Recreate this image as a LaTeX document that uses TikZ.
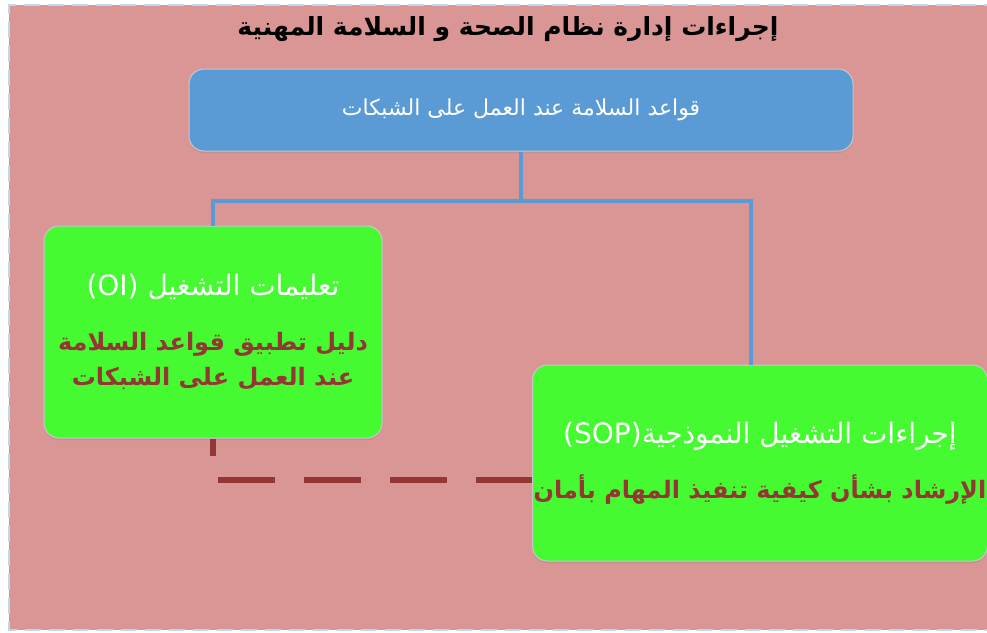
\documentclass[tikz,border=0pt]{standalone}
\usepackage{fontspec}
\newfontfamily\arabicfont[Script=Arabic]{DejaVu Sans}
\TeXXeTstate=1
\usetikzlibrary{shadows}

\definecolor{bgpink}{RGB}{217,150,148}
\definecolor{edgeblue}{RGB}{189,215,238}
\definecolor{boxblue}{RGB}{91,155,213}
\definecolor{boxgreen}{RGB}{70,250,50}
\definecolor{darkred}{RGB}{148,54,52}
\definecolor{boxedge}{RGB}{200,200,205}

\tikzset{
  box/.style={draw=boxedge,line width=1pt,rounded corners=15pt,align=center,
    drop shadow={shadow xshift=0pt,shadow yshift=-2pt,opacity=0.25}},
  bluebox/.style={box,fill=boxblue,minimum width=664pt,minimum height=82pt},
  greenbox/.style={box,fill=boxgreen,inner xsep=0pt,font=\fontsize{24}{35}\selectfont},
  link/.style={draw=boxblue,line width=4pt},
  dashlink/.style={draw=darkred,line width=6pt,dash pattern=on 57pt off 29pt,dash phase=40pt}
}

\newcommand{\ar}[1]{\arabicfont\beginR #1\endR}
\newcommand{\whiteline}{\color{white}\fontsize{28}{35}\selectfont\mdseries}
\newcommand{\redline}{\color{darkred}\fontsize{24}{35}\selectfont\bfseries}

\begin{document}
\begin{tikzpicture}[x=1pt,y=-1pt]
            \useasboundingbox (0,0) rectangle (987,632);

            % Background
            \fill[bgpink] (9,5) rectangle (1000,630);
            \draw[edgeblue,line width=2pt,dash pattern=on 16pt off 8pt] (1000,5) -- (9,5) -- (9,630) -- (1000,630);

            \node[font=\fontsize{25}{28}\selectfont\bfseries] (title) at (508,29) {\ar{إجراءات إدارة نظام الصحة و السلامة المهنية}};

            \node[bluebox,text=white,font=\fontsize{22}{26}\selectfont] (rules) at (521,110)
            {\ar{قواعد السلامة عند العمل على الشبكات}};

            \node[greenbox,minimum width=338pt,minimum height=212pt] (oi) at (213,332)
            {\whiteline\arabicfont\beginR تعليمات التشغيل \beginL(OI)\endL\endR\\[20pt]
             \redline\ar{دليل تطبيق قواعد السلامة}\\\redline\ar{عند العمل على الشبكات}};

            \node[greenbox,minimum width=455pt,minimum height=196pt] (sop) at (760,463)
            {\whiteline\arabicfont\beginR إجراءات التشغيل النموذجية\beginL(SOP)\endL\endR\\[20pt]
             \redline\ar{الإرشاد بشأن كيفية تنفيذ المهام بأمان}};

            % Connectors
            \coordinate (fork) at (521,201);
            \draw[link] (rules.south) -- (fork);
            \draw[link] (fork) -| (oi.north);
            \draw[link] (fork) -| ([xshift=-9pt]sop.north);

            \draw[dashlink] (oi.south) |- ([yshift=-17pt]sop.west);
        \end{tikzpicture}
\end{document}
